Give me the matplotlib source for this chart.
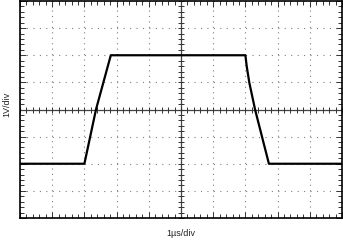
import numpy as np
import matplotlib
matplotlib.use("Agg")
import matplotlib.pyplot as plt

plt.rcParams['font.family'] = ['Liberation Sans', 'DejaVu Sans']

# waveform, in divisions (1 us/div horizontally, 1 V/div vertically)
t_div = [0.0, 2.0, 2.36, 2.82, 7.0, 7.04, 7.12, 7.30, 7.73, 10.0]
v_div = [-2.0, -2.0, 0.0, 2.0, 2.0, 1.6, 1.0, 0.0, -2.0, -2.0]

x_label = "1\u00b5s/div"
y_label = "1V/div"

fig = plt.figure(figsize=(3.43, 2.42), dpi=100)
ax = fig.add_axes([20/343, 24/242, 322/343, 217/242])
ax.set_xlim(0, 10)
ax.set_ylim(-4, 4)

# dotted graticule, dots roughly at every fifth of a division
ax.set_xticks(np.arange(0, 11, 1))
ax.set_yticks(np.arange(-4, 5, 1))
ax.set_xticks(np.arange(0, 10.01, 0.2), minor=True)
ax.set_yticks(np.arange(-4, 4.01, 0.2), minor=True)
ax.xaxis.grid(True, which='major', color='#808080', linestyle=(0, (1, 3.9)), linewidth=0.8)
ax.yaxis.grid(True, which='major', color='#808080', linestyle=(0, (1, 4.8)), linewidth=0.8)
ax.tick_params(which='both', direction='in', top=True, right=True,
               labelbottom=False, labelleft=False, color='#333333')
ax.tick_params(which='major', length=4, width=0.7)
ax.tick_params(which='minor', length=3, width=0.7)
for s in ax.spines.values():
    s.set_linewidth(1.2)

# centre axes with crossing ticks
ax.axhline(0, color='#444444', lw=0.9)
ax.axvline(5, color='#444444', lw=0.9)
mx = np.arange(0, 10.01, 0.2)
my = np.arange(-4, 4.01, 0.2)
ax.plot(mx, np.zeros_like(mx), ls='none', marker='|', ms=4, mew=0.7, color='#333333')
ax.plot(np.full_like(my, 5), my, ls='none', marker='_', ms=4, mew=0.7, color='#333333')

ax.plot(t_div, v_div, color='black', lw=1.6, solid_joinstyle='round')

fig.text(181/343, 1 - 234/242, x_label, ha='center', va='center', fontsize=6.5, color='#222222')
fig.text(7/343, 1 - 104/242, y_label, ha='center', va='center', rotation=90, fontsize=6.5, color='#222222')

fig.savefig("out.png", dpi=100)
